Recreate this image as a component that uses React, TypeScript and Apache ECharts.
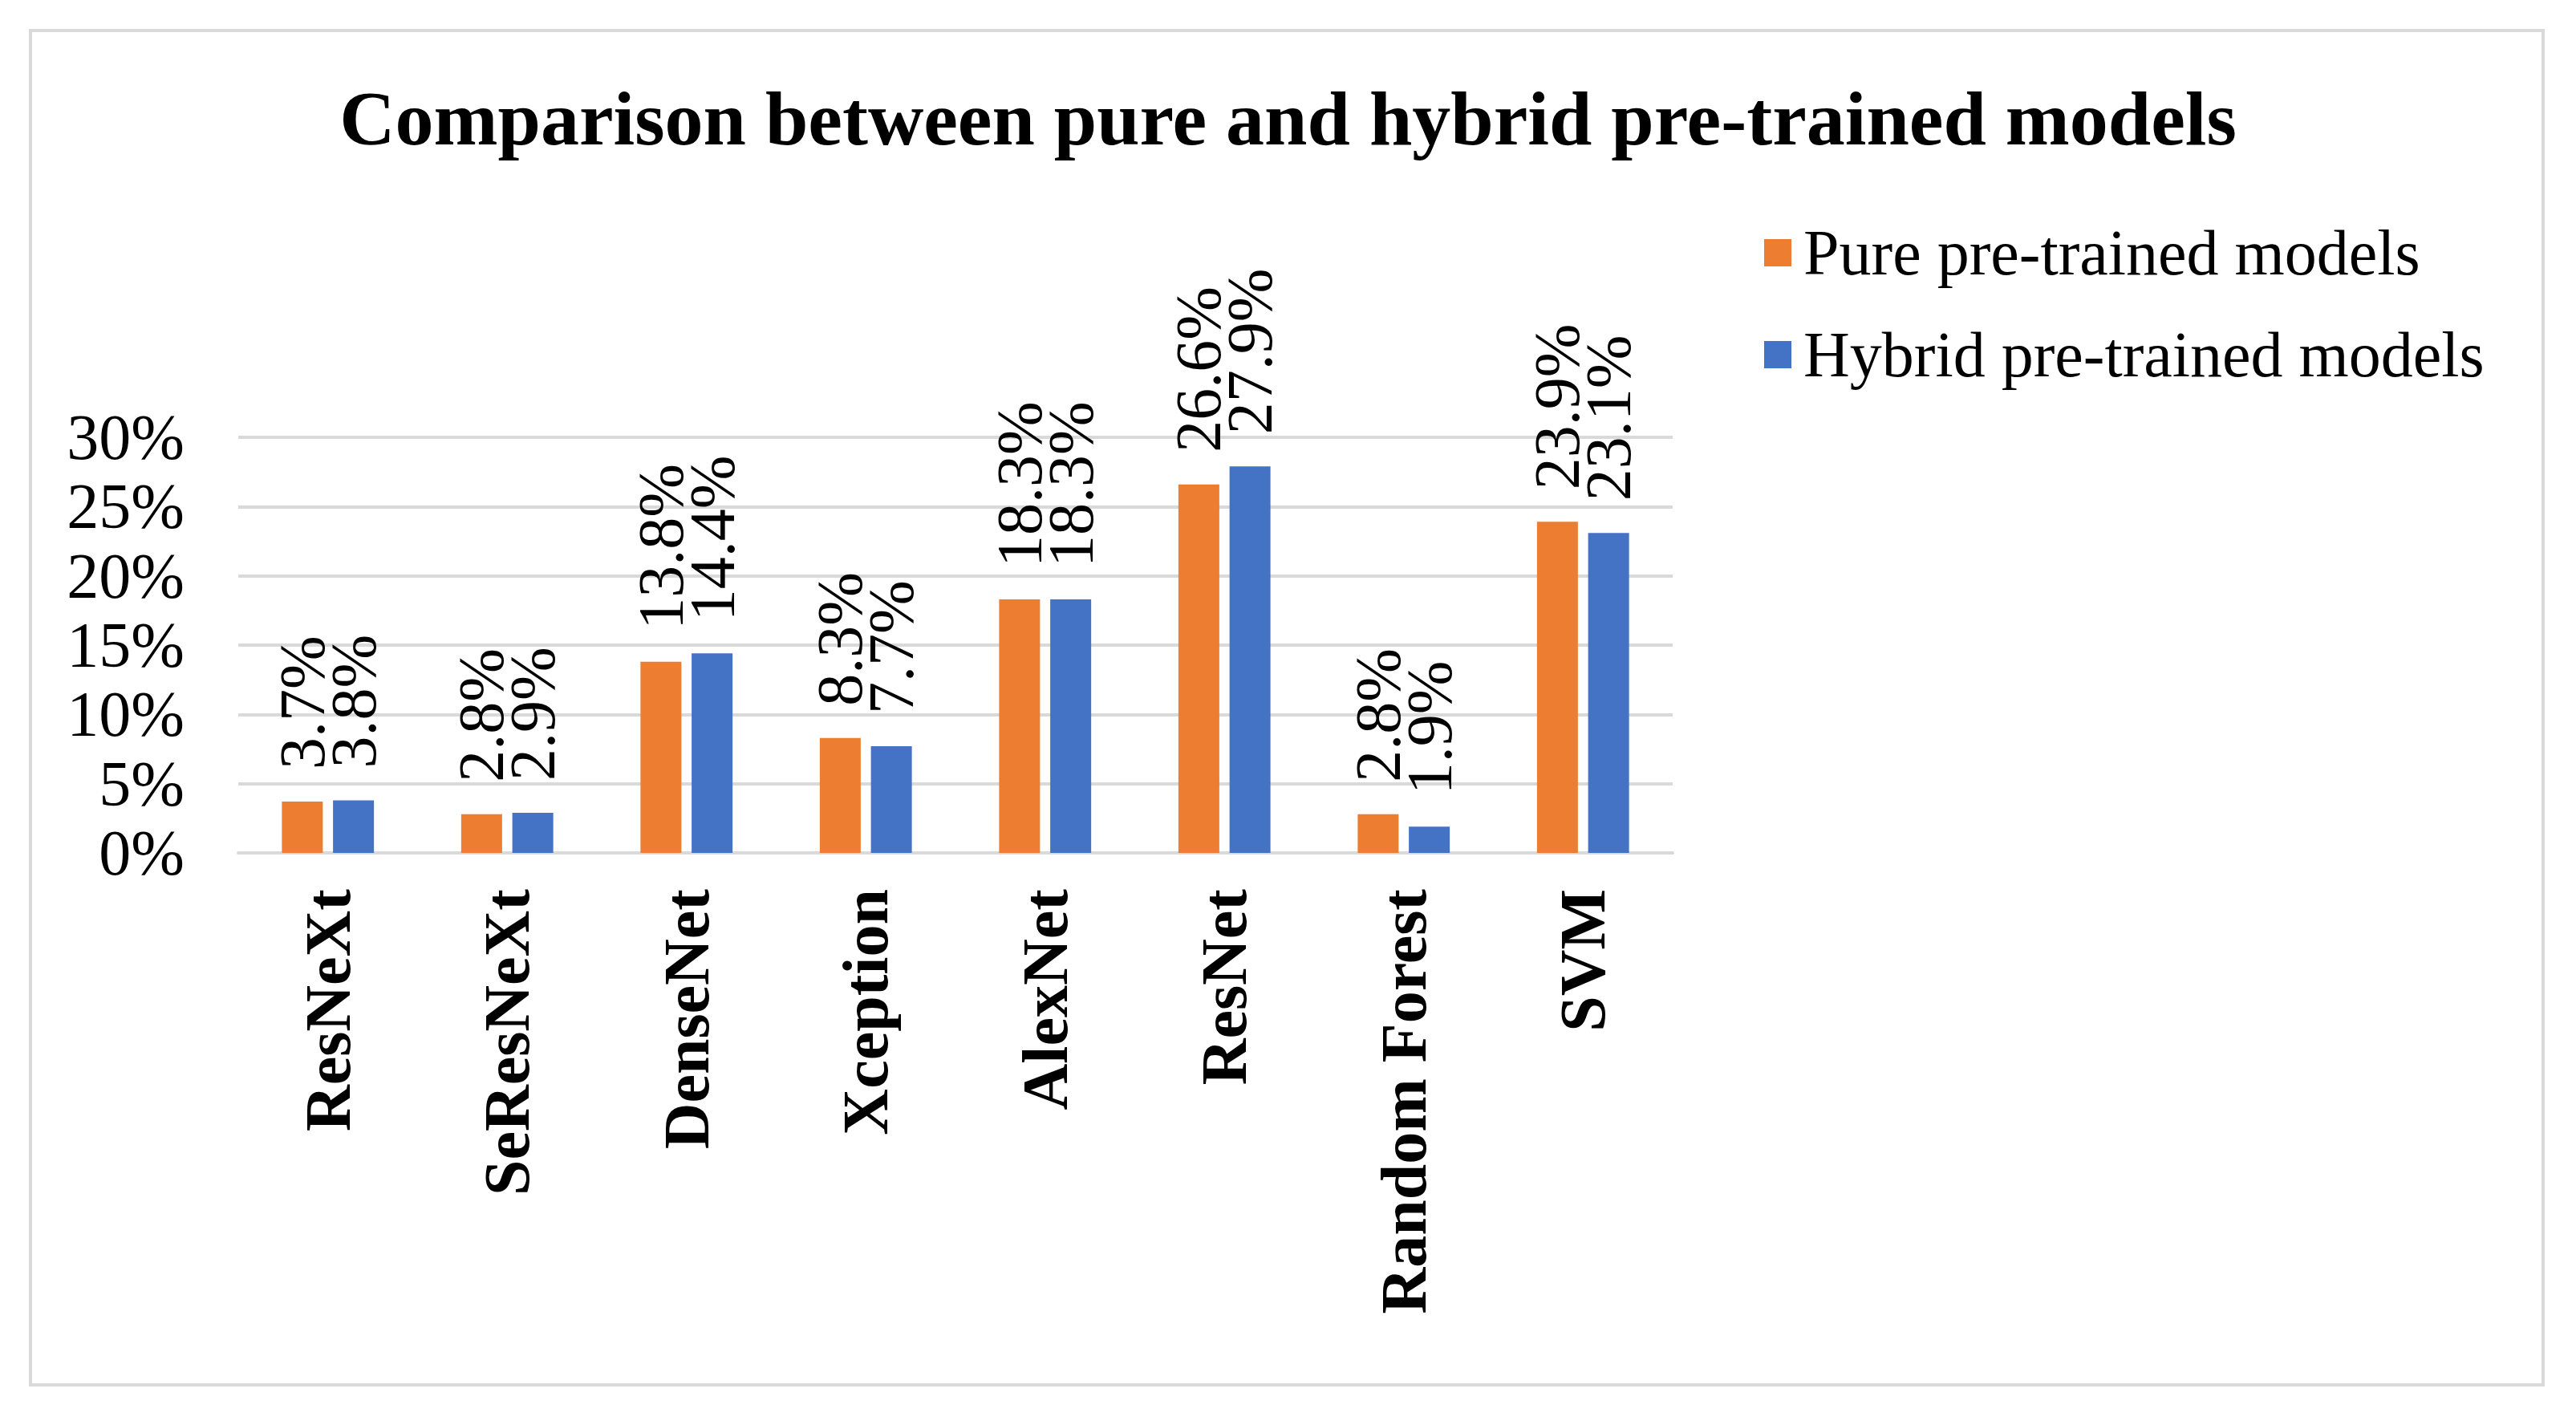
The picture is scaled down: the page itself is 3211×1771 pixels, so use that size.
import React, { useEffect, useRef } from "react";
import * as echarts from "echarts";

const categories = ["ResNeXt", "SeResNeXt", "DenseNet", "Xception", "AlexNet", "ResNet", "Random Forest", "SVM"];
const pureValues = [3.7, 2.8, 13.8, 8.3, 18.3, 26.6, 2.8, 23.9];
const hybridValues = [3.8, 2.9, 14.4, 7.7, 18.3, 27.9, 1.9, 23.1];
const seriesNames = ["Pure pre-trained models", "Hybrid pre-trained models"];
const titleText = "Comparison between pure and hybrid pre-trained models";

const FONT = '"Liberation Serif", "Times New Roman", serif';

export default function App() {
  const ref = useRef<HTMLDivElement>(null);
  useEffect(() => {
    if (!ref.current) return;
    const chart = echarts.init(ref.current, null, { renderer: "svg" });
    const labelStyle = {
      show: true,
      position: "top",
      rotate: 90,
      align: "left",
      verticalAlign: "middle",
      distance: 40,
      formatter: "{c}%",
      fontFamily: FONT,
      fontSize: 80,
      color: "#000",
    };
    chart.setOption({
      animation: false,
      backgroundColor: "#fff",
      textStyle: { fontFamily: FONT },
      title: {
        text: titleText,
        left: "center",
        top: 94,
        textStyle: { fontFamily: FONT, fontSize: 96, fontWeight: "bold", color: "#000" },
      },
      legend: {
        orient: "vertical",
        left: 2194,
        top: 270,
        itemWidth: 34,
        itemHeight: 34,
        itemGap: 47,
        icon: "rect",
        data: seriesNames,
        textStyle: { fontFamily: FONT, fontSize: 80, color: "#000", lineHeight: 80, padding: [0, 0, 0, 10] },
      },
      graphic: [
        {
          type: "rect",
          shape: { x: 38, y: 38, width: 3132, height: 1688 },
          style: { fill: "none", stroke: "#d9d9d9", lineWidth: 4 },
          silent: true,
        },
      ],
      grid: { left: 297, right: 1126, top: 545, bottom: 708, containLabel: false },
      xAxis: {
        type: "category",
        data: categories,
        axisLine: { show: true, lineStyle: { color: "#d9d9d9", width: 4 } },
        axisTick: { show: false },
        axisLabel: {
          rotate: 90,
          margin: 45,
          interval: 0,
          fontFamily: FONT,
          fontSize: 80,
          fontWeight: "bold",
          color: "#000",
        },
      },
      yAxis: {
        type: "value",
        min: 0,
        max: 30,
        interval: 5,
        axisLine: { show: false },
        axisTick: { show: false },
        splitLine: { lineStyle: { color: "#d9d9d9", width: 4 } },
        axisLabel: {
          formatter: "{value}%",
          margin: 67,
          fontFamily: FONT,
          fontSize: 80,
          color: "#000",
        },
      },
      series: [
        {
          name: seriesNames[0],
          type: "bar",
          data: pureValues,
          barWidth: 51,
          barGap: "25%",
          itemStyle: { color: "#ED7D31" },
          label: labelStyle,
        },
        {
          name: seriesNames[1],
          type: "bar",
          data: hybridValues,
          barWidth: 51,
          barGap: "25%",
          itemStyle: { color: "#4472C4" },
          label: labelStyle,
        },
      ],
    });
    return () => chart.dispose();
  }, []);
  return (
    <div
      ref={ref}
      style={{ position: "fixed", left: 0, top: 0, width: 3211, height: 1771 }}
    />
  );
}
